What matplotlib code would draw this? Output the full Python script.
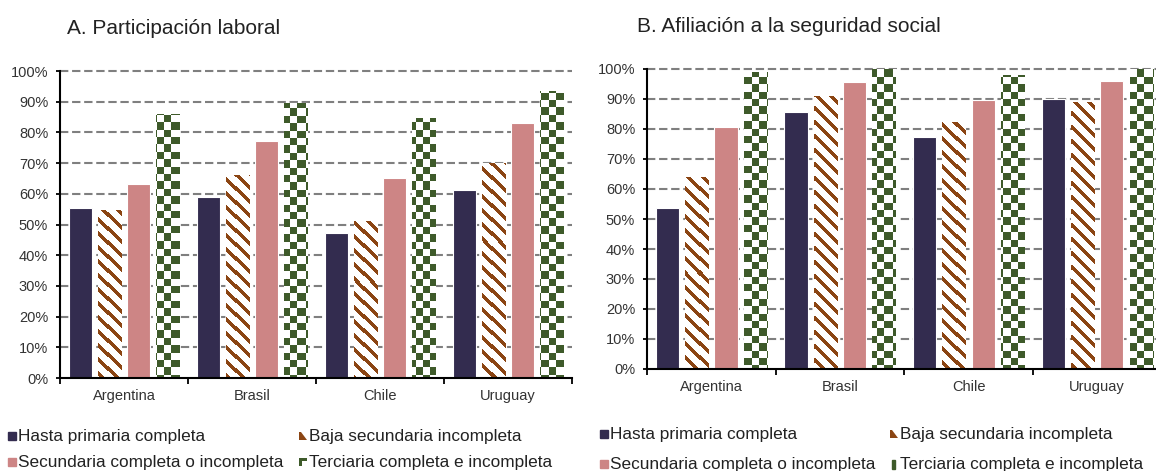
import numpy as np
import matplotlib
matplotlib.use("Agg")
import matplotlib.pyplot as plt
from matplotlib.patches import Rectangle, Polygon

plt.rcParams['font.family'] = ['Liberation Sans', 'DejaVu Sans']

# ---- data ----
countries = ["Argentina", "Brasil", "Chile", "Uruguay"]
series_names = ["Hasta primaria completa", "Baja secundaria incompleta",
                "Secundaria completa o incompleta", "Terciaria completa e incompleta"]

participacion_primaria = [0.553, 0.589, 0.471, 0.611]
participacion_baja_sec = [0.547, 0.660, 0.512, 0.701]
participacion_secundaria = [0.632, 0.773, 0.650, 0.829]
participacion_terciaria = [0.860, 0.895, 0.848, 0.935]

afiliacion_primaria = [0.536, 0.858, 0.772, 0.900]
afiliacion_baja_sec = [0.640, 0.910, 0.823, 0.890]
afiliacion_secundaria = [0.807, 0.956, 0.897, 0.960]
afiliacion_terciaria = [0.990, 1.000, 0.980, 1.000]

yticks = [0.0, 0.1, 0.2, 0.3, 0.4, 0.5, 0.6, 0.7, 0.8, 0.9, 1.0]
ytick_labels = ["0%", "10%", "20%", "30%", "40%", "50%", "60%", "70%", "80%", "90%", "100%"]

# ---- style ----
W_PX, H_PX = 1156, 471
NAVY = "#332C4F"
BROWN = "#8B4513"
PINK = "#CD8585"
GREEN = "#3E5A2A"
GRID = "#7F7F7F"
TXT = "#333333"


def fx(px):
    return px / W_PX


def fy(py):
    return 1 - py / H_PX


def stripe_image(w, h, color, period=14, thick=5):
    rows, cols = np.mgrid[0:h, 0:w]
    mask = ((cols - rows) % period) < thick
    rgba = np.ones((h, w, 4))
    rgb = matplotlib.colors.to_rgb(color)
    rgba[mask, :3] = rgb
    return rgba


def checker_image(w, h, color, cell=7.4):
    rows, cols = np.mgrid[0:h, 0:w]
    mask = ((np.floor(rows / cell) + np.floor(cols / cell)) % 2) == 0
    rgba = np.ones((h, w, 4))
    rgb = matplotlib.colors.to_rgb(color)
    rgba[mask, :3] = rgb
    return rgba


fig = plt.figure(figsize=(W_PX / 100, H_PX / 100), dpi=100)


def panel(rect_px, data, title, title_xy):
    left, top, right, bottom = rect_px
    ax = fig.add_axes([fx(left), fy(bottom), fx(right - left), (bottom - top) / H_PX])
    ax_w = int(round(right - left))
    ax_h = int(round(bottom - top))

    xlim = (-0.5, len(countries) - 0.5)
    x = np.arange(len(countries))
    slot, width = 0.228, 0.18

    # dashed reference lines
    for yv in yticks[1:]:
        ax.axhline(yv, color=GRID, lw=1.5, ls=(0, (4, 1.8)), zorder=0.5, clip_on=False)

    prim, baja, sec, terc = data
    ax.bar(x - 1.5 * slot, prim, width, color=NAVY, edgecolor="white", lw=0.8, zorder=2)
    b_baja = ax.bar(x - 0.5 * slot, baja, width, color="white", edgecolor="white", lw=0.8, zorder=2)
    ax.bar(x + 0.5 * slot, sec, width, color=PINK, edgecolor="white", lw=0.8, zorder=2)
    b_terc = ax.bar(x + 1.5 * slot, terc, width, color="white", edgecolor="white", lw=0.8, zorder=2)

    extent = (xlim[0], xlim[1], 0, 1)
    s_img = stripe_image(ax_w, ax_h, BROWN)
    c_img = checker_image(ax_w, ax_h, GREEN)
    for bar in b_baja:
        im = ax.imshow(s_img, extent=extent, interpolation="nearest", aspect="auto", zorder=2.1)
        im.set_clip_path(bar)
    for bar in b_terc:
        im = ax.imshow(c_img, extent=extent, interpolation="nearest", aspect="auto", zorder=2.1)
        im.set_clip_path(bar)

    ax.set_xlim(*xlim)
    ax.set_ylim(0, 1)

    for s in ["top", "right"]:
        ax.spines[s].set_visible(False)
    for s in ["left", "bottom"]:
        ax.spines[s].set_linewidth(1.5)
        ax.spines[s].set_color("black")
        ax.spines[s].set_zorder(3)

    ax.set_yticks(yticks)
    ax.set_yticklabels(ytick_labels)
    ax.tick_params(axis="y", direction="out", length=3, width=1.3, pad=5.5,
                   labelsize=10.5, labelcolor=TXT, color="black")

    ax.set_xticks(np.arange(len(countries) + 1) - 0.5)
    ax.set_xticklabels([])
    ax.tick_params(axis="x", which="major", direction="out", length=4, width=1.3, color="black")
    ax.set_xticks(x, minor=True)
    ax.set_xticklabels(countries, minor=True)
    ax.tick_params(axis="x", which="minor", length=0, pad=8, labelsize=10.5, labelcolor=TXT)

    fig.text(fx(title_xy[0]), fy(title_xy[1]), title, fontsize=15, color="#222222",
             ha="left", va="center")
    return ax


panel((60, 71, 572, 378),
      (participacion_primaria, participacion_baja_sec, participacion_secundaria, participacion_terciaria),
      "A. Participación laboral", (67, 28))
panel((647, 69, 1161.5, 369),
      (afiliacion_primaria, afiliacion_baja_sec, afiliacion_secundaria, afiliacion_terciaria),
      "B. Afiliación a la seguridad social", (637, 26))


# ---- legends ----
def legend(col1_x, col2_x, row_y, terc_style):
    sz = 8
    entries = [
        (col1_x, row_y[0], series_names[0], "navy"),
        (col2_x, row_y[0], series_names[1], "baja"),
        (col1_x, row_y[1], series_names[2], "pink"),
        (col2_x, row_y[1], series_names[3], terc_style),
    ]
    for mx, my, label, kind in entries:
        x0, y0 = mx, my + sz / 2  # bottom-left in pixel coords (y down)
        if kind == "navy":
            fig.add_artist(Rectangle((fx(x0), fy(y0)), sz / W_PX, sz / H_PX,
                                     transform=fig.transFigure, color=NAVY))
        elif kind == "pink":
            fig.add_artist(Rectangle((fx(x0), fy(y0)), sz / W_PX, sz / H_PX,
                                     transform=fig.transFigure, color=PINK))
        elif kind == "baja":
            pts = [(x0, y0), (x0 + sz, y0), (x0 + 2, y0 - sz), (x0, y0 - sz)]
            fig.add_artist(Polygon([(fx(a), fy(b)) for a, b in pts],
                                   transform=fig.transFigure, color=BROWN, lw=0))
        elif kind == "terc_r":
            pts = [(x0, y0), (x0 + 3, y0), (x0 + 3, y0 - sz + 3), (x0 + sz, y0 - sz + 3),
                   (x0 + sz, y0 - sz), (x0, y0 - sz)]
            fig.add_artist(Polygon([(fx(a), fy(b)) for a, b in pts],
                                   transform=fig.transFigure, color=GREEN, lw=0))
        elif kind == "terc_bar":
            fig.add_artist(Rectangle((fx(x0 + 2), fy(y0 + 0.5)), 3 / W_PX, (sz + 1) / H_PX,
                                     transform=fig.transFigure, color=GREEN))
        fig.text(fx(mx + sz + 2), fy(my), label, fontsize=12.4, color="#222222",
                 ha="left", va="center")


legend(8, 299, (436, 462), "terc_r")
legend(600, 890, (434, 464), "terc_bar")

fig.savefig("out.png", dpi=100)
